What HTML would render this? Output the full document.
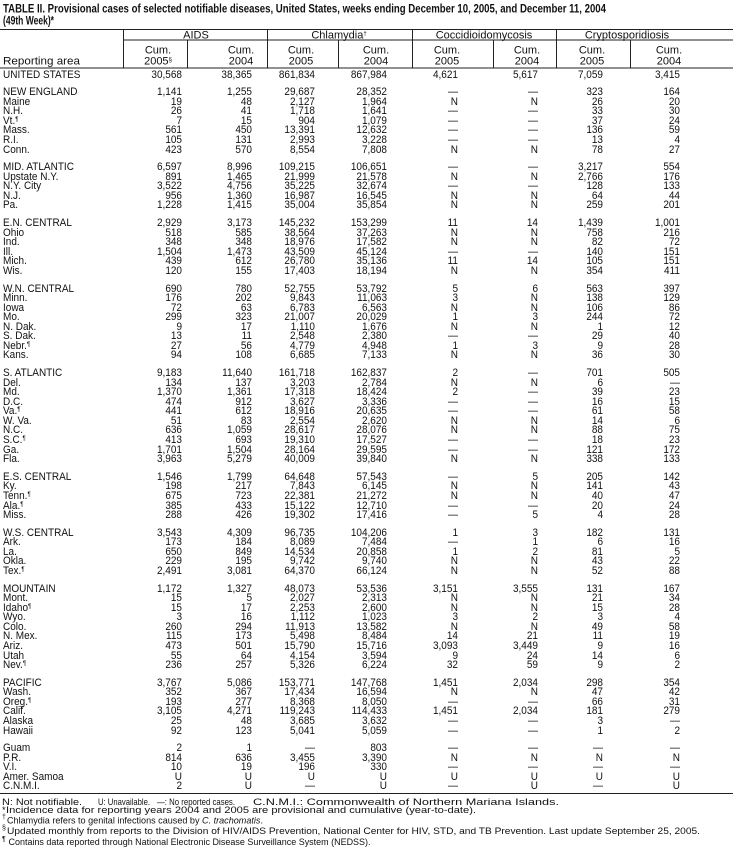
<!DOCTYPE html>
<html><head><meta charset="utf-8">
<style>
html,body{margin:0;padding:0;background:#fff;}
body{width:733px;height:858px;position:relative;overflow:hidden;font-family:"Liberation Sans",Arial,sans-serif;color:#111;}
svg{position:absolute;left:0;top:0;}
#t{position:absolute;left:0;top:70.5px;width:733px;font-size:10px;}
.r{position:relative;height:9.55px;}
.g{height:8.2px;}
.r span{position:absolute;top:0;line-height:10px;white-space:nowrap;transform:scaleY(1.08);transform-origin:50% 55%;}
.r span:nth-child(1){left:3px;}
.r span:nth-child(2){right:551px;}
.r span:nth-child(3){right:481px;}
.r span:nth-child(4){right:418px;}
.r span:nth-child(5){right:346px;}
.r span:nth-child(6){right:275px;}
.r span:nth-child(7){right:195px;}
.r span:nth-child(8){right:130px;}
.r span:nth-child(9){right:53px;}
sup{font-size:6px;line-height:0;vertical-align:3px;}
</style></head><body>
<svg width="733" height="858" font-family="Liberation Sans, Arial, sans-serif" fill="#111">
<text x="3" y="12.5" font-size="11.5" font-weight="bold" textLength="603" lengthAdjust="spacingAndGlyphs">TABLE II. Provisional cases of selected notifiable diseases, United States, weeks ending December 10, 2005, and December 11, 2004</text>
<text x="3" y="24.5" font-size="11.5" font-weight="bold" textLength="51" lengthAdjust="spacingAndGlyphs">(49th Week)*</text>
<g stroke="#222" stroke-width="1">
<line x1="0" y1="29.5" x2="733" y2="29.5"/>
<line x1="123" y1="40" x2="733" y2="40"/>
<line x1="0" y1="68" x2="733" y2="68"/>
<line x1="123.5" y1="29.5" x2="123.5" y2="68"/>
<line x1="267.5" y1="29.5" x2="267.5" y2="68"/>
<line x1="412.5" y1="29.5" x2="412.5" y2="68"/>
<line x1="556.5" y1="29.5" x2="556.5" y2="68"/>
<line x1="187.5" y1="40" x2="187.5" y2="68"/>
<line x1="338.5" y1="40" x2="338.5" y2="68"/>
<line x1="493.5" y1="40" x2="493.5" y2="68"/>
<line x1="630.5" y1="40" x2="630.5" y2="68"/>
<line x1="0" y1="793.5" x2="733" y2="793.5"/>
</g>
<g font-size="11" text-anchor="middle">
<text x="196" y="38.5">AIDS</text>
<text x="339" y="38.5">Chlamydia<tspan font-size="6" dy="-3">†</tspan></text>
<text x="484" y="38.5">Coccidioidomycosis</text>
<text x="627" y="38.5">Cryptosporidiosis</text>
<text x="158" y="53.5">Cum.</text><text x="158" y="64.5">2005<tspan font-size="6" dy="-3">§</tspan></text>
<text x="241" y="53.5">Cum.</text><text x="241" y="64.5">2004</text>
<text x="301" y="53.5">Cum.</text><text x="301" y="64.5">2005</text>
<text x="376" y="53.5">Cum.</text><text x="376" y="64.5">2004</text>
<text x="447" y="53.5">Cum.</text><text x="447" y="64.5">2005</text>
<text x="527" y="53.5">Cum.</text><text x="527" y="64.5">2004</text>
<text x="592" y="53.5">Cum.</text><text x="592" y="64.5">2005</text>
<text x="669" y="53.5">Cum.</text><text x="669" y="64.5">2004</text>
</g>
<text x="3" y="64.5" font-size="11" textLength="77" lengthAdjust="spacingAndGlyphs">Reporting area</text>
<g font-size="9.5">
<text x="2" y="805" textLength="80" lengthAdjust="spacingAndGlyphs">N: Not notifiable.</text>
<text x="98" y="805" textLength="52" lengthAdjust="spacingAndGlyphs">U: Unavailable.</text>
<text x="157" y="805" textLength="78" lengthAdjust="spacingAndGlyphs">—: No reported cases.</text>
<text x="253" y="805" textLength="306" lengthAdjust="spacingAndGlyphs">C.N.M.I.: Commonwealth of Northern Mariana Islands.</text>
<text x="2" y="813">*</text>
<text x="6" y="813" textLength="470" lengthAdjust="spacingAndGlyphs">Incidence data for reporting years 2004 and 2005 are provisional and cumulative (year-to-date).</text>
<text x="2" y="819" font-size="7">†</text>
<text x="7" y="823.5" textLength="256" lengthAdjust="spacingAndGlyphs">Chlamydia refers to genital infections caused by <tspan font-style="italic">C. trachomatis</tspan>.</text>
<text x="2" y="830" font-size="7">§</text>
<text x="7" y="834" textLength="693" lengthAdjust="spacingAndGlyphs">Updated monthly from reports to the Division of HIV/AIDS Prevention, National Center for HIV, STD, and TB Prevention. Last update September 25, 2005.</text>
<text x="2" y="841" font-size="7">¶</text>
<text x="8.5" y="845" textLength="362" lengthAdjust="spacingAndGlyphs">Contains data reported through National Electronic Disease Surveillance System (NEDSS).</text>
</g>
</svg>
<div id="t">
<div class="r"><span>UNITED STATES</span><span>30,568</span><span>38,365</span><span>861,834</span><span>867,984</span><span>4,621</span><span>5,617</span><span>7,059</span><span>3,415</span></div>
<div class="g"></div>
<div class="r"><span>NEW ENGLAND</span><span>1,141</span><span>1,255</span><span>29,687</span><span>28,352</span><span>—</span><span>—</span><span>323</span><span>164</span></div>
<div class="r"><span>Maine</span><span>19</span><span>48</span><span>2,127</span><span>1,964</span><span>N</span><span>N</span><span>26</span><span>20</span></div>
<div class="r"><span>N.H.</span><span>26</span><span>41</span><span>1,718</span><span>1,641</span><span>—</span><span>—</span><span>33</span><span>30</span></div>
<div class="r"><span>Vt.<sup>¶</sup></span><span>7</span><span>15</span><span>904</span><span>1,079</span><span>—</span><span>—</span><span>37</span><span>24</span></div>
<div class="r"><span>Mass.</span><span>561</span><span>450</span><span>13,391</span><span>12,632</span><span>—</span><span>—</span><span>136</span><span>59</span></div>
<div class="r"><span>R.I.</span><span>105</span><span>131</span><span>2,993</span><span>3,228</span><span>—</span><span>—</span><span>13</span><span>4</span></div>
<div class="r"><span>Conn.</span><span>423</span><span>570</span><span>8,554</span><span>7,808</span><span>N</span><span>N</span><span>78</span><span>27</span></div>
<div class="g"></div>
<div class="r"><span>MID. ATLANTIC</span><span>6,597</span><span>8,996</span><span>109,215</span><span>106,651</span><span>—</span><span>—</span><span>3,217</span><span>554</span></div>
<div class="r"><span>Upstate N.Y.</span><span>891</span><span>1,465</span><span>21,999</span><span>21,578</span><span>N</span><span>N</span><span>2,766</span><span>176</span></div>
<div class="r"><span>N.Y. City</span><span>3,522</span><span>4,756</span><span>35,225</span><span>32,674</span><span>—</span><span>—</span><span>128</span><span>133</span></div>
<div class="r"><span>N.J.</span><span>956</span><span>1,360</span><span>16,987</span><span>16,545</span><span>N</span><span>N</span><span>64</span><span>44</span></div>
<div class="r"><span>Pa.</span><span>1,228</span><span>1,415</span><span>35,004</span><span>35,854</span><span>N</span><span>N</span><span>259</span><span>201</span></div>
<div class="g"></div>
<div class="r"><span>E.N. CENTRAL</span><span>2,929</span><span>3,173</span><span>145,232</span><span>153,299</span><span>11</span><span>14</span><span>1,439</span><span>1,001</span></div>
<div class="r"><span>Ohio</span><span>518</span><span>585</span><span>38,564</span><span>37,263</span><span>N</span><span>N</span><span>758</span><span>216</span></div>
<div class="r"><span>Ind.</span><span>348</span><span>348</span><span>18,976</span><span>17,582</span><span>N</span><span>N</span><span>82</span><span>72</span></div>
<div class="r"><span>Ill.</span><span>1,504</span><span>1,473</span><span>43,509</span><span>45,124</span><span>—</span><span>—</span><span>140</span><span>151</span></div>
<div class="r"><span>Mich.</span><span>439</span><span>612</span><span>26,780</span><span>35,136</span><span>11</span><span>14</span><span>105</span><span>151</span></div>
<div class="r"><span>Wis.</span><span>120</span><span>155</span><span>17,403</span><span>18,194</span><span>N</span><span>N</span><span>354</span><span>411</span></div>
<div class="g"></div>
<div class="r"><span>W.N. CENTRAL</span><span>690</span><span>780</span><span>52,755</span><span>53,792</span><span>5</span><span>6</span><span>563</span><span>397</span></div>
<div class="r"><span>Minn.</span><span>176</span><span>202</span><span>9,843</span><span>11,063</span><span>3</span><span>N</span><span>138</span><span>129</span></div>
<div class="r"><span>Iowa</span><span>72</span><span>63</span><span>6,783</span><span>6,563</span><span>N</span><span>N</span><span>106</span><span>86</span></div>
<div class="r"><span>Mo.</span><span>299</span><span>323</span><span>21,007</span><span>20,029</span><span>1</span><span>3</span><span>244</span><span>72</span></div>
<div class="r"><span>N. Dak.</span><span>9</span><span>17</span><span>1,110</span><span>1,676</span><span>N</span><span>N</span><span>1</span><span>12</span></div>
<div class="r"><span>S. Dak.</span><span>13</span><span>11</span><span>2,548</span><span>2,380</span><span>—</span><span>—</span><span>29</span><span>40</span></div>
<div class="r"><span>Nebr.<sup>¶</sup></span><span>27</span><span>56</span><span>4,779</span><span>4,948</span><span>1</span><span>3</span><span>9</span><span>28</span></div>
<div class="r"><span>Kans.</span><span>94</span><span>108</span><span>6,685</span><span>7,133</span><span>N</span><span>N</span><span>36</span><span>30</span></div>
<div class="g"></div>
<div class="r"><span>S. ATLANTIC</span><span>9,183</span><span>11,640</span><span>161,718</span><span>162,837</span><span>2</span><span>—</span><span>701</span><span>505</span></div>
<div class="r"><span>Del.</span><span>134</span><span>137</span><span>3,203</span><span>2,784</span><span>N</span><span>N</span><span>6</span><span>—</span></div>
<div class="r"><span>Md.</span><span>1,370</span><span>1,361</span><span>17,318</span><span>18,424</span><span>2</span><span>—</span><span>39</span><span>23</span></div>
<div class="r"><span>D.C.</span><span>474</span><span>912</span><span>3,627</span><span>3,336</span><span>—</span><span>—</span><span>16</span><span>15</span></div>
<div class="r"><span>Va.<sup>¶</sup></span><span>441</span><span>612</span><span>18,916</span><span>20,635</span><span>—</span><span>—</span><span>61</span><span>58</span></div>
<div class="r"><span>W. Va.</span><span>51</span><span>83</span><span>2,554</span><span>2,620</span><span>N</span><span>N</span><span>14</span><span>6</span></div>
<div class="r"><span>N.C.</span><span>636</span><span>1,059</span><span>28,617</span><span>28,076</span><span>N</span><span>N</span><span>88</span><span>75</span></div>
<div class="r"><span>S.C.<sup>¶</sup></span><span>413</span><span>693</span><span>19,310</span><span>17,527</span><span>—</span><span>—</span><span>18</span><span>23</span></div>
<div class="r"><span>Ga.</span><span>1,701</span><span>1,504</span><span>28,164</span><span>29,595</span><span>—</span><span>—</span><span>121</span><span>172</span></div>
<div class="r"><span>Fla.</span><span>3,963</span><span>5,279</span><span>40,009</span><span>39,840</span><span>N</span><span>N</span><span>338</span><span>133</span></div>
<div class="g"></div>
<div class="r"><span>E.S. CENTRAL</span><span>1,546</span><span>1,799</span><span>64,648</span><span>57,543</span><span>—</span><span>5</span><span>205</span><span>142</span></div>
<div class="r"><span>Ky.</span><span>198</span><span>217</span><span>7,843</span><span>6,145</span><span>N</span><span>N</span><span>141</span><span>43</span></div>
<div class="r"><span>Tenn.<sup>¶</sup></span><span>675</span><span>723</span><span>22,381</span><span>21,272</span><span>N</span><span>N</span><span>40</span><span>47</span></div>
<div class="r"><span>Ala.<sup>¶</sup></span><span>385</span><span>433</span><span>15,122</span><span>12,710</span><span>—</span><span>—</span><span>20</span><span>24</span></div>
<div class="r"><span>Miss.</span><span>288</span><span>426</span><span>19,302</span><span>17,416</span><span>—</span><span>5</span><span>4</span><span>28</span></div>
<div class="g"></div>
<div class="r"><span>W.S. CENTRAL</span><span>3,543</span><span>4,309</span><span>96,735</span><span>104,206</span><span>1</span><span>3</span><span>182</span><span>131</span></div>
<div class="r"><span>Ark.</span><span>173</span><span>184</span><span>8,089</span><span>7,484</span><span>—</span><span>1</span><span>6</span><span>16</span></div>
<div class="r"><span>La.</span><span>650</span><span>849</span><span>14,534</span><span>20,858</span><span>1</span><span>2</span><span>81</span><span>5</span></div>
<div class="r"><span>Okla.</span><span>229</span><span>195</span><span>9,742</span><span>9,740</span><span>N</span><span>N</span><span>43</span><span>22</span></div>
<div class="r"><span>Tex.<sup>¶</sup></span><span>2,491</span><span>3,081</span><span>64,370</span><span>66,124</span><span>N</span><span>N</span><span>52</span><span>88</span></div>
<div class="g"></div>
<div class="r"><span>MOUNTAIN</span><span>1,172</span><span>1,327</span><span>48,073</span><span>53,536</span><span>3,151</span><span>3,555</span><span>131</span><span>167</span></div>
<div class="r"><span>Mont.</span><span>15</span><span>5</span><span>2,027</span><span>2,313</span><span>N</span><span>N</span><span>21</span><span>34</span></div>
<div class="r"><span>Idaho<sup>¶</sup></span><span>15</span><span>17</span><span>2,253</span><span>2,600</span><span>N</span><span>N</span><span>15</span><span>28</span></div>
<div class="r"><span>Wyo.</span><span>3</span><span>16</span><span>1,112</span><span>1,023</span><span>3</span><span>2</span><span>3</span><span>4</span></div>
<div class="r"><span>Colo.</span><span>260</span><span>294</span><span>11,913</span><span>13,582</span><span>N</span><span>N</span><span>49</span><span>58</span></div>
<div class="r"><span>N. Mex.</span><span>115</span><span>173</span><span>5,498</span><span>8,484</span><span>14</span><span>21</span><span>11</span><span>19</span></div>
<div class="r"><span>Ariz.</span><span>473</span><span>501</span><span>15,790</span><span>15,716</span><span>3,093</span><span>3,449</span><span>9</span><span>16</span></div>
<div class="r"><span>Utah</span><span>55</span><span>64</span><span>4,154</span><span>3,594</span><span>9</span><span>24</span><span>14</span><span>6</span></div>
<div class="r"><span>Nev.<sup>¶</sup></span><span>236</span><span>257</span><span>5,326</span><span>6,224</span><span>32</span><span>59</span><span>9</span><span>2</span></div>
<div class="g"></div>
<div class="r"><span>PACIFIC</span><span>3,767</span><span>5,086</span><span>153,771</span><span>147,768</span><span>1,451</span><span>2,034</span><span>298</span><span>354</span></div>
<div class="r"><span>Wash.</span><span>352</span><span>367</span><span>17,434</span><span>16,594</span><span>N</span><span>N</span><span>47</span><span>42</span></div>
<div class="r"><span>Oreg.<sup>¶</sup></span><span>193</span><span>277</span><span>8,368</span><span>8,050</span><span>—</span><span>—</span><span>66</span><span>31</span></div>
<div class="r"><span>Calif.</span><span>3,105</span><span>4,271</span><span>119,243</span><span>114,433</span><span>1,451</span><span>2,034</span><span>181</span><span>279</span></div>
<div class="r"><span>Alaska</span><span>25</span><span>48</span><span>3,685</span><span>3,632</span><span>—</span><span>—</span><span>3</span><span>—</span></div>
<div class="r"><span>Hawaii</span><span>92</span><span>123</span><span>5,041</span><span>5,059</span><span>—</span><span>—</span><span>1</span><span>2</span></div>
<div class="g"></div>
<div class="r"><span>Guam</span><span>2</span><span>1</span><span>—</span><span>803</span><span>—</span><span>—</span><span>—</span><span>—</span></div>
<div class="r"><span>P.R.</span><span>814</span><span>636</span><span>3,455</span><span>3,390</span><span>N</span><span>N</span><span>N</span><span>N</span></div>
<div class="r"><span>V.I.</span><span>10</span><span>19</span><span>196</span><span>330</span><span>—</span><span>—</span><span>—</span><span>—</span></div>
<div class="r"><span>Amer. Samoa</span><span>U</span><span>U</span><span>U</span><span>U</span><span>U</span><span>U</span><span>U</span><span>U</span></div>
<div class="r"><span>C.N.M.I.</span><span>2</span><span>U</span><span>—</span><span>U</span><span>—</span><span>U</span><span>—</span><span>U</span></div>
</div>
</body></html>
